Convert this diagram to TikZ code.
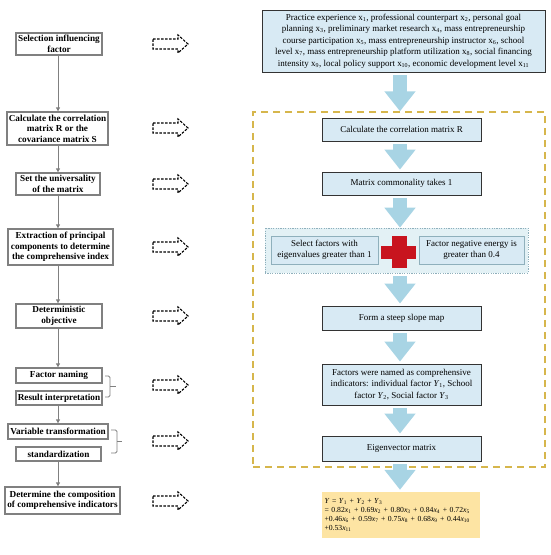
\documentclass[tikz,border=0pt]{standalone}
\usepackage{fontspec}
\setmainfont{Liberation Serif}
\usetikzlibrary{arrows.meta,calc}

\definecolor{boxblue}{HTML}{D8EAF4}
\definecolor{arrowblue}{HTML}{A8D4E4}
\definecolor{groupblue}{HTML}{E3F1F5}
\definecolor{groupline}{HTML}{8FB0BC}
\definecolor{goldline}{HTML}{D6B64C}
\definecolor{formulabg}{HTML}{FDE4A3}
\definecolor{crossred}{HTML}{C8141E}
\definecolor{leftgray}{HTML}{808080}

\newcommand\vx[1]{\textit{x}\textsubscript{#1}}
\newcommand\rx[1]{x\textsubscript{#1}}
\newcommand\vY[1]{\textit{Y}\textsubscript{#1}}

\begin{document}
\begin{tikzpicture}[x=1pt,y=-1pt,
  leftbox/.style={draw=leftgray, line width=1.3pt, fill=white, align=center,
    inner xsep=1pt, inner ysep=0pt,
    font=\fontsize{9.2}{10.5}\selectfont\bfseries},
  rightbox/.style={draw=black!80, line width=0.9pt, fill=boxblue, align=center,
    inner xsep=2pt, inner ysep=0pt,
    font=\fontsize{9}{11.5}\selectfont},
  subbox/.style={draw=groupline, line width=0.7pt, fill=boxblue, align=center,
    inner xsep=1pt, inner ysep=0pt,
    font=\fontsize{9}{11.5}\selectfont},
  leftconn/.style={draw=leftgray, line width=0.9pt,
    -{Triangle[length=4pt,width=4pt]}},
  bigarrow/.style={draw=arrowblue, line width=14pt,
    -{Triangle[length=20pt,width=30pt]}, shorten <=3pt, shorten >=2pt},
  brace/.style={draw=leftgray, line width=0.8pt},
  dasharrow/.pic={\draw[black, dash pattern=on 2.6pt off 1.4pt, line width=1.1pt]
      (-17,-5) -- (8,-5) -- (8,-9) -- (18,0) -- (8,9) -- (8,5) -- (-17,5) -- cycle;}
]
\useasboundingbox (0,0) rectangle (550,555);

% ---------- left column ----------
\node[leftbox, minimum width=86pt, minimum height=22pt] (l1) at (59,44) {Selection influencing\\factor};
\node[leftbox, minimum width=101pt, minimum height=33pt] (l2) at (57.5,128.5) {Calculate the correlation\\matrix R or the\\covariance matrix S};
\node[leftbox, minimum width=84pt, minimum height=22pt] (l3) at (58,184) {Set the universality\\of the matrix};
\node[leftbox, minimum width=105pt, minimum height=36pt] (l4) at (60.5,247) {Extraction of principal\\components to determine\\the comprehensive index};
\node[leftbox, minimum width=86pt, minimum height=24pt] (l5) at (59,316) {Deterministic\\objective};
\node[leftbox, minimum width=86pt, minimum height=15pt] (l6) at (59,375.5) {Factor naming};
\node[leftbox, minimum width=86pt, minimum height=14pt] (l7) at (59,398) {Result interpretation};
\node[leftbox, minimum width=100pt, minimum height=15pt] (l8) at (58,431.5) {Variable transformation};
\node[leftbox, minimum width=85pt, minimum height=14pt] (l9) at (58.5,454) {standardization};
\node[leftbox, minimum width=115pt, minimum height=27pt] (l10) at (62.5,500.5) {Determine the composition\\of comprehensive indicators};

\coordinate (lx) at (58,0);
\draw[leftconn] (l1.south -| lx) -- (l2.north -| lx);
\draw[leftconn] (l2.south -| lx) -- (l3.north -| lx);
\draw[leftconn] (l3.south -| lx) -- (l4.north -| lx);
\draw[leftconn] (l4.south -| lx) -- (l5.north -| lx);
\draw[leftconn] (l5.south -| lx) -- (l6.north -| lx);
\draw[leftconn] (l7.south -| lx) -- (l8.north -| lx);
\draw[leftconn] (l9.south -| lx) -- (l10.north -| lx);

% brackets
\draw[brace, rounded corners=1.5pt] (105,376) -- (110,376) -- (110,397) -- (105,397);
\draw[brace] (110,386.5) -- (116,386.5);
\draw[brace, rounded corners=1.5pt] (111,430) -- (117,430) -- (117,453) -- (111,453);
\draw[brace] (117,441.5) -- (122,441.5);

% dashed hollow arrows
\foreach \yy in {44,128,184,247,316,385,441,501}
  \pic at (170,\yy) {dasharrow};

% ---------- right column ----------
\node[rightbox, minimum width=283pt, minimum height=62pt] (top) at (403.5,41)
 {Practice experience \rx{1}, professional counterpart \rx{2}, personal goal\\
  planning \rx{3}, preliminary market research \rx{4}, mass entrepreneurship\\
  course participation \rx{5}, mass entrepreneurship instructor \rx{6}, school\\
  level \rx{7}, mass entrepreneurship platform utilization \rx{8}, social financing\\
  intensity \rx{9}, local policy support \rx{10}, economic development level \rx{11}};

\node[draw=goldline, line width=1.4pt, dash pattern=on 7pt off 5pt,
      minimum width=292pt, minimum height=355pt, inner sep=0pt] (frame) at (399,289.5) {};

\node[rightbox, minimum width=159pt, minimum height=23pt] (calc) at (401.5,129.5) {Calculate the correlation matrix R};
\node[rightbox, minimum width=159pt, minimum height=23pt] (comm) at (401.5,183.5) {Matrix commonality takes 1};

\node[draw=groupline, fill=groupblue, line width=0.7pt, dash pattern=on 1.2pt off 1.2pt,
      minimum width=263pt, minimum height=45pt, inner sep=0pt] (group) at (396.5,250.5) {};
\node[subbox, minimum width=107pt, minimum height=28pt] (sel) at (324.5,250) {Select factors with\\eigenvalues greater than 1};
\node[subbox, minimum width=105pt, minimum height=28pt] (neg) at (471.5,250) {Factor negative energy is\\greater than 0.4};
% red cross
\fill[crossred] (391.5,236) rectangle (406.5,268);
\fill[crossred] (381,245.5) rectangle (416,258.5);

\node[rightbox, minimum width=159pt, minimum height=24pt] (slope) at (401.5,318) {Form a steep slope map};
\node[rightbox, minimum width=159pt, minimum height=41pt] (named) at (401.5,384.5)
 {Factors were named as comprehensive\\indicators: individual factor \vY{1}, School\\factor \vY{2}, Social factor \vY{3}};
\node[rightbox, minimum width=159pt, minimum height=25pt] (eigen) at (401.5,448.5) {Eigenvector matrix};

\node[fill=formulabg, minimum width=158pt, minimum height=46pt, inner xsep=2.5pt, inner ysep=0pt,
      align=left, text width=153pt, font=\fontsize{7.7}{9.2}\selectfont] (formula) at (401,515)
 {\textit{Y} = \vY{1} + \vY{2} + \vY{3}\\
  = 0.82\vx{1} + 0.69\vx{2} + 0.80\vx{3} + 0.84\vx{4} + 0.72\vx{5}\\
  +0.46\vx{6} + 0.59\vx{7} + 0.75\vx{8} + 0.68\vx{9} + 0.44\vx{10}\\
  +0.53\vx{11}};

% big blue arrows
\coordinate (ax) at (400,0);
\draw[bigarrow, shorten >=0pt] (top.south -| ax) -- (frame.north -| ax);
\draw[bigarrow] (calc.south -| ax) -- (comm.north -| ax);
\draw[bigarrow, shorten >=0pt] (comm.south -| ax) -- (group.north -| ax);
\draw[bigarrow] (group.south -| ax) -- (slope.north -| ax);
\draw[bigarrow] (slope.south -| ax) -- (named.north -| ax);
\draw[bigarrow] (named.south -| ax) -- (eigen.north -| ax);
\draw[bigarrow] (eigen.south -| ax) -- (formula.north -| ax);
\end{tikzpicture}
\end{document}
